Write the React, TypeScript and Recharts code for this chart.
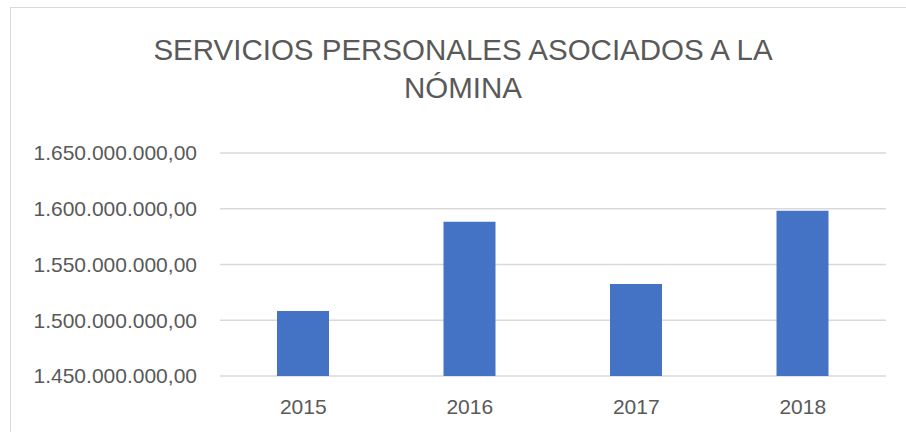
import React from 'react';
import { BarChart, Bar, XAxis, YAxis, CartesianGrid } from 'recharts';

const years = ['2015', '2016', '2017', '2018'];
const amounts = [1508400000, 1588400000, 1532600000, 1598300000];
const yTicks = [1450000000, 1500000000, 1550000000, 1600000000, 1650000000];
const titleLines = ['SERVICIOS PERSONALES ASOCIADOS A LA', 'NÓMINA'];

const data = years.map((year, i) => ({ year, value: amounts[i] }));

const fmt = (v: number) => {
  const s = Math.round(v).toString().replace(/\B(?=(\d{3})+(?!\d))/g, '.');
  return s + ',00';
};

const font = '"Liberation Sans", Arial, sans-serif';
const grey = '#595959';

const App: React.FC = () => {
  return (
    <div style={{ position: 'absolute', left: 0, top: 0, width: 906, height: 432, overflow: 'hidden', background: '#fff' }}>
      <div
        style={{
          position: 'absolute',
          left: 10,
          top: 7,
          width: 920,
          height: 460,
          border: '1px solid #d9d9d9',
          boxSizing: 'border-box'
        }}
      />
      <svg width={906} height={120} style={{ position: 'absolute', left: 0, top: 0 }}>
        {titleLines.map((line, i) => (
          <text
            key={line}
            x={463}
            y={60 + i * 38}
            textAnchor="middle"
            fontFamily={font}
            fontSize={29.5}
            fill={grey}
          >
            {line}
          </text>
        ))}
      </svg>
      <div style={{ position: 'absolute', left: 0, top: 0 }}>
        <BarChart
          width={906}
          height={432}
          data={data}
          margin={{ top: 153, right: 20, bottom: 0, left: 10 }}
        >
          <CartesianGrid vertical={false} stroke="#d9d9d9" strokeWidth={1.3} />
          <XAxis
            dataKey="year"
            height={56}
            axisLine={false}
            tickLine={false}
            tickSize={0}
            tickMargin={23}
            tick={{ fill: grey, fontSize: 21, fontFamily: font }}
          />
          <YAxis
            width={210}
            domain={[1450000000, 1650000000]}
            ticks={yTicks}
            allowDataOverflow
            axisLine={false}
            tickLine={false}
            tickSize={0}
            tickMargin={23}
            tickFormatter={fmt}
            tick={{ fill: grey, fontSize: 21, fontFamily: font }}
          />
          <Bar dataKey="value" fill="#4472c4" barSize={52} isAnimationActive={false} />
        </BarChart>
      </div>
    </div>
  );
};

export default App;
